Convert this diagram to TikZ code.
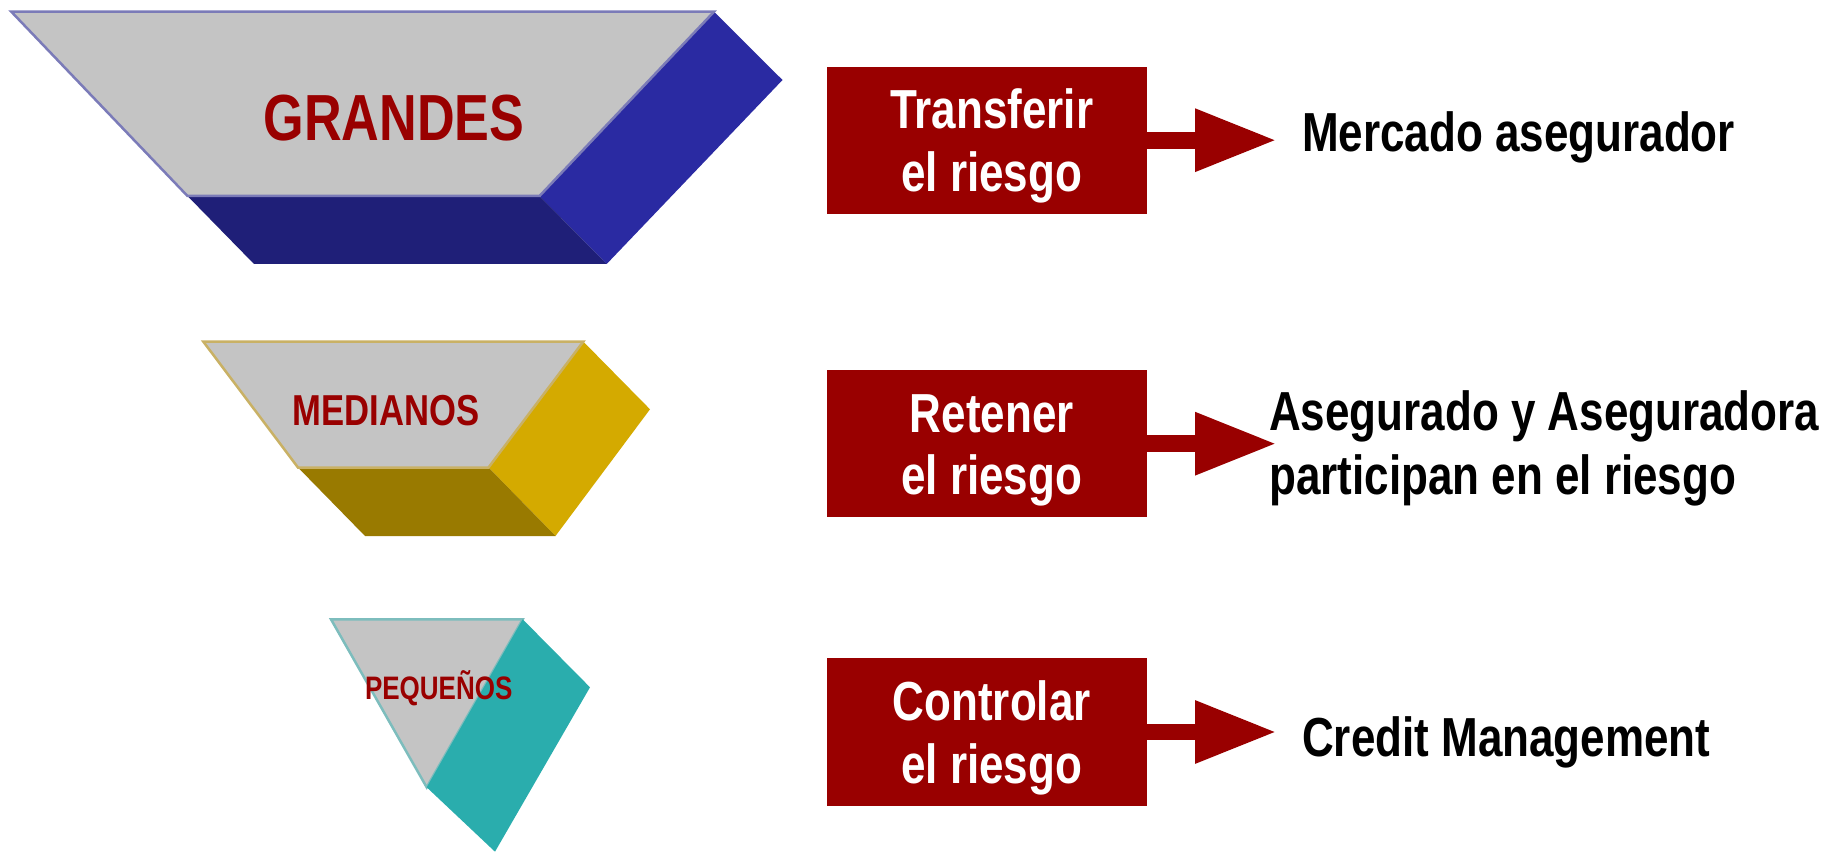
\documentclass[tikz,border=0pt]{standalone}
\usepackage{fontspec}
\newfontfamily\nb[FakeStretch=0.80]{Liberation Sans}
\usetikzlibrary{arrows.meta,calc}
\definecolor{dred}{HTML}{990000}
\definecolor{facegray}{HTML}{C4C4C4}
\definecolor{blueside}{HTML}{2A2AA2}
\definecolor{bluebot}{HTML}{1F1F78}
\definecolor{blueline}{HTML}{7B7BB8}
\definecolor{goldside}{HTML}{D4AA00}
\definecolor{goldbot}{HTML}{997A00}
\definecolor{goldline}{HTML}{C9B165}
\definecolor{tealside}{HTML}{2AADAD}
\definecolor{tealline}{HTML}{7DBDBD}
\begin{document}
\begin{tikzpicture}[x=1pt,y=-1pt,
  box/.style={fill=dred, draw=none, minimum width=320pt, minimum height=147.3pt, inner sep=0pt},
  btxt/.style={anchor=base, text=white, font=\nb\bfseries\fontsize{55}{63}\selectfont, inner sep=0pt},
  rtxt/.style={anchor=base west, text=black, font=\nb\bfseries\fontsize{55}{63}\selectfont, inner sep=0pt},
  ltxt/.style={anchor=base west, text=dred, inner sep=0pt},
  arr/.style={draw=dred, line width=16.7pt, -{Triangle[length=82pt,width=58.5pt]}},
  face/.style={fill=facegray, line width=2.5pt, line join=miter}
]
\useasboundingbox (0,0) rectangle (1840,853);

% GRANDES block
\fill[blueside] (714,11.7) -- (782.5,80) -- (606.7,264) -- (539.5,196) -- cycle;
\fill[bluebot] (187.5,196) -- (539.5,196) -- (606.7,264) -- (254,264) -- cycle;
\draw[face, draw=blueline] (11.3,11.7) -- (714,11.7) -- (539.5,196) -- (187.5,196) -- cycle;
\node[ltxt, font=\nb\bfseries\fontsize{65.2}{70}\selectfont] (grandes) at (263.5,141) {GRANDES};

% MEDIANOS block
\fill[goldside] (583.3,341.6) -- (650,409.3) -- (555.5,536) -- (488.5,467.5) -- cycle;
\fill[goldbot] (298,467.5) -- (488.5,467.5) -- (555.5,536) -- (365,536) -- cycle;
\draw[face, draw=goldline] (203.3,341.6) -- (583.3,341.6) -- (488.5,467.5) -- (298,467.5) -- cycle;
\node[ltxt, font=\nb\bfseries\fontsize{43.3}{48}\selectfont] (medianos) at (292.6,425) {MEDIANOS};

% PEQUENOS block
\draw[face, draw=tealline] (331,619.3) -- (522.7,619.3) -- (426.7,787.3) -- cycle;
\fill[tealside] (522.7,619.3) -- (590,687.3) -- (495,851.7) -- (426.7,787.3) -- cycle;
\node[ltxt, font=\nb\bfseries\fontsize{32.5}{36}\selectfont] (pequenos) at (364.8,699.3) {PEQUEÑOS};

% boxes
\node[box] (b1) at (986.7,140.2) {};
\node[box] (b2) at (986.7,443.7) {};
\node[box] (b3) at (986.7,732) {};

\node[btxt] (b1a) at ($(b1.north)+(5,62.5)$) {Transferir};
\node[btxt] (b1b) at ($(b1.north)+(5,125)$) {el riesgo};
\node[btxt] (b2a) at ($(b2.north)+(5,62.5)$) {Retener};
\node[btxt] (b2b) at ($(b2.north)+(5,125)$) {el riesgo};
\node[btxt] (b3a) at ($(b3.north)+(5,62.5)$) {Controlar};
\node[btxt] (b3b) at ($(b3.north)+(5,125)$) {el riesgo};

% arrows
\coordinate (t1) at (1277,140.2);
\coordinate (t2) at (1277,443.7);
\coordinate (t3) at (1277,732);
\draw[arr] (b1.east) -- (t1);
\draw[arr] (b2.east) -- (t2);
\draw[arr] (b3.east) -- (t3);

% right texts
\node[rtxt] (r1) at (1302,151.7) {Mercado asegurador};
\node[rtxt] (r2a) at (1269,430.5) {Asegurado y Aseguradora};
\node[rtxt] (r2b) at (1269,494) {participan en el riesgo};
\node[rtxt] (r3) at (1302,756) {Credit Management};
\end{tikzpicture}
\end{document}
